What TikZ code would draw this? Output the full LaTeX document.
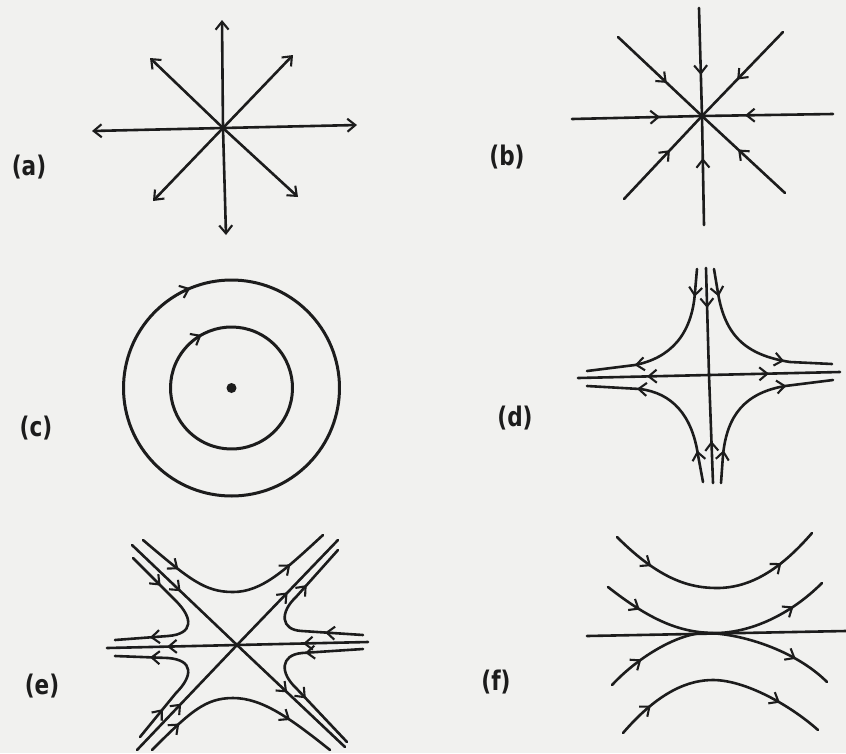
\documentclass[tikz,border=0pt]{standalone}
\usepackage{fontspec}
\newfontfamily\labfont{DejaVu Sans}
\usetikzlibrary{arrows.meta,decorations.markings}
\definecolor{paper}{RGB}{241,241,239}
\definecolor{ink}{RGB}{28,28,28}
\tikzset{
  barb/.tip={Straight Barb[length=8pt,width=13pt,line width=2.1pt]},
  curve/.style={draw=ink,line width=2.6pt,line cap=round},
  arrat/.style={postaction={decorate,decoration={markings,mark=at position #1 with {\arrow{barb}}}}},
  lab/.style={font={\labfont\bfseries\fontsize{27}{30}\selectfont},text=ink,inner sep=0pt}
}
\begin{document}
\begin{tikzpicture}[x=1pt,y=-1pt]
\fill[paper] (0,0) rectangle (846,753);
\useasboundingbox (0,0) rectangle (846,753);

% labels
\node[lab] (la) at (29,167) {\scalebox{0.8}[1]{(a)}};
\node[lab] (lb) at (507,157) {\scalebox{0.8}[1]{(b)}};
\node[lab] (lc) at (36,428) {\scalebox{0.8}[1]{(c)}};
\node[lab] (ld) at (515,418) {\scalebox{0.8}[1]{(d)}};
\node[lab] (le) at (42,686) {\scalebox{0.8}[1]{(e)}};
\node[lab] (lf) at (496,682) {\scalebox{0.8}[1]{(f)}};

% (a) unstable star
\coordinate (ao) at (223,128);
\foreach \p in {(222,20),(226,235),(92,131),(357,125),(150,58),(293,55),(153,201),(298,197)}
  \draw[curve,-barb] (ao) -- \p;

% (b) stable star
\coordinate (bo) at (702,116);
\foreach \p/\d in {(699,8)/67pt,(704,225)/67pt,(572,119)/88pt,(833,114)/88pt,(618,37)/67pt,(783,32)/66pt,(624,199)/67pt,(785,193)/64pt}
  \draw[curve,arrat=\d] \p -- (bo);

% (c) centre
\coordinate (co) at (231.5,388);
\draw[curve,line width=3pt,arrat=0.0556] (co) ++(227.5:108) arc[start angle=227.5,delta angle=360,radius=108];
\draw[curve,line width=3pt,arrat=0.0556] (co) ++(220.5:61) arc[start angle=220.5,delta angle=360,radius=61];
\fill[ink] (co) circle[radius=5];

% (d) saddle
\coordinate (do) at (709,375);
\draw[curve,arrat=40pt] (706,268) -- (do);
\draw[curve,arrat=42pt] (713,483) -- (do);
\draw[curve,arrat=62pt] (do) -- (578,378);
\draw[curve,arrat=60pt] (do) -- (840,372);
\draw[curve,arrat=28pt,arrat=-48pt] (697,269) -- (695,292) .. controls (692,335) and (670,358) .. (635,365) -- (587,371);
\draw[curve,arrat=28pt,arrat=-48pt] (714,269) -- (718,293) .. controls (725,335) and (745,355) .. (790,362) -- (832,364);
\draw[curve,arrat=32pt,arrat=-50pt] (703,482) -- (698,455) .. controls (692,415) and (672,393) .. (640,389) -- (587,386);
\draw[curve,arrat=33pt,arrat=-47pt] (721,483) -- (723,455) .. controls (727,415) and (745,393) .. (785,386) -- (833,380);

% (e)
\coordinate (eo) at (237,645);
\draw[curve,arrat=67pt,arrat=214pt] (132,545) -- (eo) -- (345,747);
\draw[curve,arrat=64pt,arrat=218pt] (137,750) -- (eo) -- (338,540);
\draw[curve,arrat=65pt,arrat=201pt] (368,642) -- (eo) -- (107,648);
\draw[curve,arrat=46pt,arrat=-44pt] (143,540) .. controls (190,580) and (205,592) .. (233,592) .. controls (262,592) and (285,570) .. (323,535);
\draw[curve,arrat=38pt,arrat=-50pt] (152,750) .. controls (190,712) and (205,698) .. (233,698) .. controls (262,698) and (290,718) .. (330,750);
\draw[curve,arrat=39pt,arrat=-35pt] (133,558) -- (176,601) .. controls (193,618) and (194,634) .. (168,636) -- (115,640);
\draw[curve,arrat=36pt,arrat=-35pt] (140,737) -- (176,693) .. controls (193,676) and (194,660) .. (168,658) -- (115,656);
\draw[curve,arrat=38pt,arrat=-47pt] (363,635) -- (302,631) .. controls (280,630) and (280,612) .. (296,597) -- (338,550);
\draw[curve,arrat=58pt,arrat=-60pt] (363,649) -- (302,653) .. controls (280,655) and (280,673) .. (296,688) -- (347,742);

% (f)
\coordinate (fa) at (587,636);
\coordinate (fb) at (846,631);
\draw[curve] (fa) -- (fb);
\draw[curve,arrat=45pt,arrat=-43pt] (617,537) .. controls (660,580) and (690,588) .. (717,588) .. controls (750,588) and (780,570) .. (812,533);
\draw[curve,arrat=39pt,arrat=-37pt] (608,587) .. controls (650,620) and (680,633) .. (715,633) .. controls (750,633) and (790,615) .. (822,583);
\draw[curve,arrat=39pt,arrat=-39pt] (612,685) .. controls (640,655) and (680,633) .. (705,633) .. controls (740,633) and (795,650) .. (827,682);
\draw[curve,arrat=39pt,arrat=-47pt] (623,733) .. controls (660,690) and (690,680) .. (713,680) .. controls (745,680) and (790,705) .. (818,730);
\end{tikzpicture}
\end{document}
